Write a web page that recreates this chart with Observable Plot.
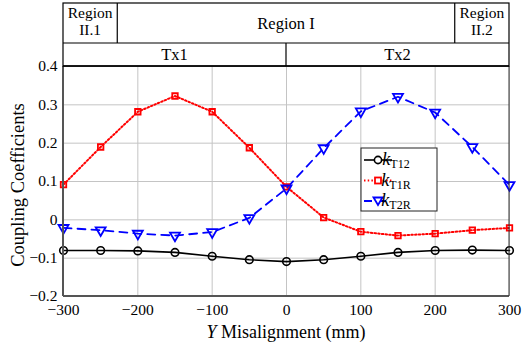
<!DOCTYPE html>
<html>
<head>
<meta charset="utf-8">
<script src="https://cdn.jsdelivr.net/npm/d3@7"></script>
<script src="https://cdn.jsdelivr.net/npm/@observablehq/plot@0.6"></script>
<style>
  html, body { margin: 0; padding: 0; background: white; }
  svg { display: block; }
</style>
</head>
<body>
<div id="chart"></div>
<script>
// ---- data ----
const misalignment = [-300, -250, -200, -150, -100, -50, 0, 50, 100, 150, 200, 250, 300];
const kT12 = [-0.080, -0.080, -0.081, -0.085, -0.095, -0.104, -0.109, -0.104, -0.095, -0.085, -0.080, -0.079, -0.080];
const kT1R = [0.092, 0.190, 0.282, 0.323, 0.282, 0.188, 0.086, 0.006, -0.031, -0.041, -0.036, -0.027, -0.021];
const kT2R = [-0.021, -0.027, -0.036, -0.041, -0.032, 0.005, 0.082, 0.187, 0.283, 0.321, 0.280, 0.190, 0.091];
const xTicks = [-300, -200, -100, 0, 100, 200, 300];
const yTicks = [-0.2, -0.1, 0, 0.1, 0.2, 0.3, 0.4];
const regionNames = [["Region", "II.1"], ["Region I"], ["Region", "II.2"]];
const regionEdges = [-300, -227, 227, 300];
const txNames = ["Tx1", "Tx2"];
const txEdges = [-300, 0, 300];
const seriesNames = ["T12", "T1R", "T2R"];

const rows = [];
const series = [kT12, kT1R, kT2R];
series.forEach((vals, si) => vals.forEach((v, i) => rows.push({s: seriesNames[si], x: misalignment[i], y: v})));
const bySeries = s => rows.filter(d => d.s === s);

const FONT = "Liberation Serif, DejaVu Serif, serif";
const RED = "#ff0000", BLUE = "#0000ff";
const fmtY = d => d === 0 ? "0" : d3.format(".1f")(d);

const plot = Plot.plot({
  width: 522, height: 345,
  marginLeft: 63, marginRight: 13, marginTop: 66, marginBottom: 49,
  style: {fontFamily: FONT, fontSize: "16px", background: "white", color: "black"},
  x: {domain: [-300, 300], ticks: xTicks, label: null},
  y: {domain: [-0.2, 0.4], ticks: yTicks, label: null},
  marks: [
    Plot.gridX(xTicks, {stroke: "#c4c4c4", strokeOpacity: 1, strokeWidth: 1}),
    Plot.gridY(yTicks, {stroke: "#c4c4c4", strokeOpacity: 1, strokeWidth: 1}),
    Plot.axisX(xTicks, {tickSize: 0, tickPadding: 7, fontSize: 15.5, fill: "black", fontFamily: FONT}),
    Plot.axisY(yTicks, {tickSize: 0, tickPadding: 6, fontSize: 15.5, fill: "black", fontFamily: FONT, tickFormat: fmtY}),
    Plot.line(bySeries("T12"), {x: "x", y: "y", stroke: "black", strokeWidth: 1.6}),
    Plot.line(bySeries("T1R"), {x: "x", y: "y", stroke: RED, strokeWidth: 2, strokeDasharray: "1.5,2.2"}),
    Plot.line(bySeries("T2R"), {x: "x", y: "y", stroke: BLUE, strokeWidth: 1.8, strokeDasharray: "8,6"}),
    Plot.dot(bySeries("T12"), {x: "x", y: "y", symbol: "circle", r: 3.8, stroke: "black", strokeWidth: 1.6, fill: "none"}),
    Plot.dot(bySeries("T1R"), {x: "x", y: "y", symbol: "square", r: 3.1, stroke: RED, strokeWidth: 1.8, fill: "none"}),
    Plot.dot(bySeries("T2R"), {x: "x", y: "y", symbol: "triangle", rotate: 180, r: 3.7, stroke: BLUE, strokeWidth: 1.8, fill: "none"})
  ]
});

document.getElementById("chart").appendChild(plot);

// ---- decorations appended with the plot's own scales ----
const svg = d3.select(plot);
const sx = plot.scale("x"), sy = plot.scale("y");
const X = v => sx.apply(v), Y = v => sy.apply(v);
const pLeft = X(-300), pRight = X(300), pTop = Y(0.4), pBottom = Y(-0.2);

// axis box
svg.append("line").attr("x1", pLeft).attr("x2", pLeft).attr("y1", pTop).attr("y2", pBottom)
  .attr("stroke", "#555").attr("stroke-width", 2);
svg.append("line").attr("x1", pLeft).attr("x2", pRight).attr("y1", pBottom).attr("y2", pBottom)
  .attr("stroke", "#555").attr("stroke-width", 2);
svg.append("line").attr("x1", pRight).attr("x2", pRight).attr("y1", pTop).attr("y2", pBottom)
  .attr("stroke", "#333").attr("stroke-width", 1);

// header boxes
const txTop = pTop - 23, regTop = pTop - 63;
const hdr = svg.append("g").attr("font-family", FONT).attr("fill", "black");
hdr.append("rect").attr("x", pLeft).attr("y", regTop).attr("width", pRight - pLeft).attr("height", pTop - regTop)
  .attr("fill", "white").attr("stroke", "black").attr("stroke-width", 1.2);
hdr.append("line").attr("x1", pLeft).attr("x2", pRight).attr("y1", txTop).attr("y2", txTop).attr("stroke", "black").attr("stroke-width", 1.2);
hdr.append("line").attr("x1", pLeft).attr("x2", pRight).attr("y1", pTop).attr("y2", pTop).attr("stroke", "black").attr("stroke-width", 1.5);
regionEdges.slice(1, -1).forEach(e => hdr.append("line").attr("x1", X(e)).attr("x2", X(e)).attr("y1", regTop).attr("y2", txTop).attr("stroke", "black").attr("stroke-width", 1.2));
txEdges.slice(1, -1).forEach(e => hdr.append("line").attr("x1", X(e)).attr("x2", X(e)).attr("y1", txTop).attr("y2", pTop).attr("stroke", "black").attr("stroke-width", 1.2));
regionNames.forEach((lines, i) => {
  const cx = (X(regionEdges[i]) + X(regionEdges[i + 1])) / 2;
  const cy = (regTop + txTop) / 2;
  if (lines.length === 1) {
    hdr.append("text").attr("text-anchor", "middle").attr("font-size", 16.5).attr("x", cx).attr("y", cy + 5.5).text(lines[0]);
  } else {
    hdr.append("text").attr("text-anchor", "middle").attr("font-size", 15.5).attr("x", cx).attr("y", cy - 5).text(lines[0]);
    hdr.append("text").attr("text-anchor", "middle").attr("font-size", 15.5).attr("x", cx).attr("y", cy + 12).text(lines[1]);
  }
});
txNames.forEach((n, i) => {
  const cx = (X(txEdges[i]) + X(txEdges[i + 1])) / 2;
  hdr.append("text").attr("text-anchor", "middle").attr("font-size", 16.5).attr("x", cx).attr("y", (txTop + pTop) / 2 + 5.5).text(n);
});

// axis titles
const xt = svg.append("text").attr("font-family", FONT).attr("font-size", 18).attr("text-anchor", "middle")
  .attr("x", (pLeft + pRight) / 2).attr("y", 338);
xt.append("tspan").attr("font-style", "italic").text("Y");
xt.append("tspan").text(" Misalignment (mm)");
svg.append("text").attr("font-family", FONT).attr("font-size", 18.5).attr("text-anchor", "middle")
  .attr("transform", `translate(24,185) rotate(-90)`).text("Coupling Coefficients");

// legend
const lg = svg.append("g").attr("font-family", FONT);
const lx = 361, ly = 148, lw = 76, lh = 63;
lg.append("rect").attr("x", lx).attr("y", ly).attr("width", lw).attr("height", lh)
  .attr("fill", "white").attr("stroke", "#222").attr("stroke-width", 1);
const styles = [
  {stroke: "black", dash: null, w: 1.6},
  {stroke: RED, dash: "1.5,2.2", w: 2},
  {stroke: BLUE, dash: "8,6", w: 1.8}
];
seriesNames.forEach((n, i) => {
  const cy = ly + 12 + i * 20.5;
  const st = styles[i];
  const l = lg.append("line").attr("x1", lx + 3).attr("x2", lx + 31).attr("y1", cy).attr("y2", cy)
    .attr("stroke", st.stroke).attr("stroke-width", st.w);
  if (st.dash) l.attr("stroke-dasharray", st.dash);
  const mx = lx + 17;
  if (i === 0) lg.append("circle").attr("cx", mx).attr("cy", cy).attr("r", 3.6).attr("fill", "white").attr("stroke", "black").attr("stroke-width", 1.6);
  if (i === 1) lg.append("rect").attr("x", mx - 3).attr("y", cy - 3).attr("width", 6).attr("height", 6).attr("fill", "white").attr("stroke", RED).attr("stroke-width", 1.8);
  if (i === 2) lg.append("path").attr("d", `M${mx - 4.5},${cy - 3.5}L${mx + 4.5},${cy - 3.5}L${mx},${cy + 4}Z`).attr("fill", "white").attr("stroke", BLUE).attr("stroke-width", 1.8);
  const t = lg.append("text").attr("x", lx + 35).attr("y", cy + 5).attr("font-size", 18);
  t.append("tspan").attr("font-style", "italic").text("k");
  t.append("tspan").attr("font-size", 12).attr("dy", 3).text(n);
});
</script>
</body>
</html>
